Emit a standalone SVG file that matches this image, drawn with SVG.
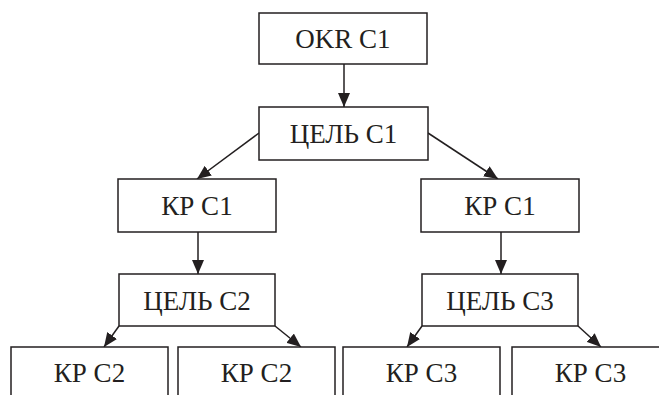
<svg xmlns="http://www.w3.org/2000/svg" width="659" height="395" viewBox="0 0 659 395">
<style>
.box{fill:#fff;stroke:#231f20;stroke-width:1.5}
text{font-family:'Liberation Serif','Times New Roman',serif;font-size:27px;fill:#231f20;text-anchor:middle}
.c{stroke:#231f20;stroke-width:1.5;fill:none;marker-end:url(#ah)}
</style>
<defs>
<marker id="ah" viewBox="0 0 14 12" refX="14" refY="6" markerWidth="14" markerHeight="12" markerUnits="userSpaceOnUse" orient="auto">
<path d="M0,0 L14,6 L0,12 Z" fill="#231f20"/>
</marker>
</defs>
<rect width="659" height="395" fill="#fff"/>
<g id="connectors">
<line class="c" x1="344" y1="64" x2="344" y2="107"/>
<line class="c" x1="259" y1="133" x2="197" y2="179"/>
<line class="c" x1="428" y1="133" x2="498" y2="179"/>
<line class="c" x1="198" y1="232" x2="198" y2="274"/>
<line class="c" x1="501" y1="232" x2="501" y2="274"/>
<line class="c" x1="119" y1="326" x2="104" y2="347"/>
<line class="c" x1="275" y1="326" x2="301" y2="347"/>
<line class="c" x1="422" y1="326" x2="407" y2="347"/>
<line class="c" x1="578" y1="326" x2="601" y2="347"/>
</g>
<g id="okr-c1"><rect class="box" x="259" y="13" width="168" height="51"/><text x="343" y="48">OKR C1</text></g>
<g id="goal-c1"><rect class="box" x="259" y="107" width="169" height="53"/><text x="343.5" y="143">ЦЕЛЬ C1</text></g>
<g id="kr-c1-left"><rect class="box" x="118" y="179" width="158" height="53"/><text x="197" y="215">КР С1</text></g>
<g id="kr-c1-right"><rect class="box" x="421" y="179" width="158" height="53"/><text x="500" y="215">КР С1</text></g>
<g id="goal-c2"><rect class="box" x="119" y="274" width="156" height="52"/><text x="197" y="310">ЦЕЛЬ С2</text></g>
<g id="goal-c3"><rect class="box" x="422" y="274" width="156" height="52"/><text x="500" y="310">ЦЕЛЬ С3</text></g>
<g id="kr-c2-a"><rect class="box" x="11" y="347" width="157" height="60"/><text x="89.5" y="382">КР С2</text></g>
<g id="kr-c2-b"><rect class="box" x="178" y="347" width="157" height="60"/><text x="256.5" y="382">КР С2</text></g>
<g id="kr-c3-a"><rect class="box" x="343" y="347" width="157" height="60"/><text x="421.5" y="382">КР С3</text></g>
<g id="kr-c3-b"><rect class="box" x="512" y="347" width="157" height="60"/><text x="590.5" y="382">КР С3</text></g>
</svg>
